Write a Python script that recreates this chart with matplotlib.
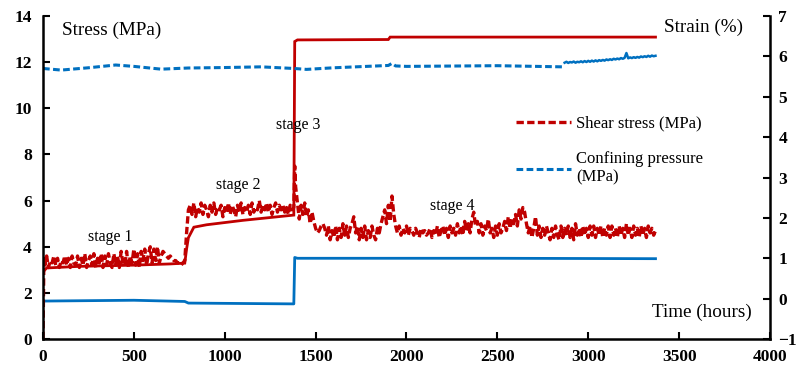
import numpy as np
import matplotlib
matplotlib.use("Agg")
import matplotlib.pyplot as plt

# ---------------- data ----------------
# Shear stress (MPa), left axis
shear_t_start = [0, 5]
shear_v_start = [0.0, 3.5]
shear_t1 = np.arange(10, 800 + 1, 10)
shear_v1 = [3.2, 3.6, 3.1, 3.4, 3.3, 3.6, 3.2, 3.5, 3.1, 3.4,
            3.3, 3.6, 3.2, 3.5, 3.1, 3.6, 3.3, 3.2, 3.6, 3.1,
            3.5, 3.2, 3.7, 3.1, 3.4, 3.6, 3.2, 3.7, 3.1, 3.5,
            3.3, 3.7, 3.1, 3.6, 3.2, 3.7, 3.3, 3.1, 3.7, 3.2,
            3.6, 3.1, 3.8, 3.3, 3.2, 3.8, 3.1, 3.6, 3.3, 3.9,
            3.2, 3.7, 3.1, 3.8, 3.4, 3.9, 3.2, 3.7, 4.0, 3.3,
            3.9, 3.4, 4.0, 3.3, 3.6, 3.8, 3.7, 3.6, 3.5, 3.6,
            3.5, 3.4, 3.4, 3.3, 3.3, 3.2, 3.3, 3.4, 4.6, 5.6]
shear_t2 = np.arange(810, 1380 + 1, 10)
shear_v2 = [5.8, 5.4, 5.9, 5.3, 5.7, 5.5, 5.9, 5.4, 5.8, 5.6,
            5.3, 5.8, 5.5, 5.9, 5.4, 5.7, 5.6, 5.8, 5.3, 5.7,
            5.5, 5.9, 5.4, 5.8, 5.6, 5.3, 5.8, 5.5, 5.9, 5.4,
            5.7, 5.5, 5.8, 5.4, 5.9, 5.5, 5.7, 5.6, 6.0, 5.5,
            5.8, 5.6, 5.9, 5.5, 5.8, 5.4, 5.7, 5.9, 5.5, 5.8,
            5.6, 5.8, 5.5, 5.7, 5.4, 5.8, 5.6, 5.7]
shear_t_spike = [1385]
shear_v_spike = [7.5]
shear_t3 = np.arange(1390, 3370 + 1, 10)
shear_v3 = [6.6, 5.9, 5.2, 5.8, 5.4, 5.9, 5.3, 5.6, 5.0, 5.5,
            5.1, 4.8, 4.6, 4.7, 4.9, 5.0, 4.8, 4.5, 4.9, 4.3,
            4.7, 4.4, 4.9, 4.3, 4.8, 4.4, 5.0, 4.5, 4.9, 4.4,
            4.8, 5.0, 5.3, 4.6, 4.9, 4.3, 4.8, 4.4, 4.9, 4.3,
            4.7, 4.4, 4.9, 4.5, 4.3, 4.8, 4.6, 5.0, 5.3, 5.6,
            5.0, 5.8, 5.1, 6.2, 5.4, 4.9, 4.6, 4.9, 4.5, 4.8,
            4.6, 4.9, 4.5, 4.8, 4.7, 4.5, 4.8, 4.6, 4.4, 4.8,
            4.6, 4.7, 4.5, 4.6, 4.8, 4.4, 4.7, 4.5, 4.9, 4.4,
            4.7, 4.9, 4.5, 4.8, 4.4, 4.9, 4.6, 4.8, 4.5, 5.0,
            4.6, 4.9, 4.5, 5.1, 4.7, 5.0, 4.6, 5.2, 5.5, 4.9,
            5.1, 4.6, 5.0, 4.5, 4.9, 4.7, 5.2, 4.6, 4.8, 4.4,
            4.9, 4.5, 5.0, 4.6, 4.8, 5.1, 4.7, 5.3, 4.8, 5.2,
            5.0, 5.4, 4.9, 5.6, 5.2, 5.7, 5.5, 5.0, 4.6, 4.9,
            4.4, 4.8, 5.3, 4.5, 4.9, 4.4, 4.8, 4.5, 4.9, 4.6,
            4.3, 4.8, 4.4, 4.9, 4.5, 4.3, 4.9, 4.4, 4.8, 4.5,
            4.9, 4.4, 4.8, 4.3, 5.0, 4.5, 4.8, 4.4, 4.9, 4.5,
            4.8, 4.4, 4.9, 4.5, 4.9, 4.4, 4.8, 4.5, 4.9, 4.4,
            4.8, 4.5, 4.9, 4.4, 4.9, 4.5, 4.8, 4.4, 4.9, 4.5,
            4.8, 4.4, 5.0, 4.5, 4.8, 4.4, 4.9, 4.5, 4.8, 4.4,
            4.9, 4.5, 4.8, 4.4, 4.9, 4.6, 4.8, 4.5, 4.7]

# Confining pressure (MPa), left axis
conf_t = [0, 100, 250, 400, 500, 650, 800, 1000, 1200, 1380, 1450, 1600,
          1900, 1920, 1940, 2000, 2500, 2860]
conf_v = [11.73, 11.66, 11.76, 11.88, 11.82, 11.70, 11.75, 11.77, 11.80,
          11.73, 11.69, 11.76, 11.86, 11.95, 11.84, 11.82, 11.85, 11.80]
conf_t_late = np.arange(2870, 3370 + 1, 10)
conf_v_late = [11.98, 12.02, 11.97, 12.01, 11.99, 12.03, 11.98, 12.02, 12.00, 12.04,
               12.00, 12.05, 12.01, 12.06, 12.02, 12.07, 12.03, 12.08, 12.04, 12.09,
               12.06, 12.10, 12.07, 12.12, 12.09, 12.13, 12.10, 12.15, 12.12, 12.16,
               12.13, 12.18, 12.15, 12.19, 12.40, 12.17, 12.21, 12.18, 12.22, 12.19,
               12.23, 12.20, 12.25, 12.22, 12.26, 12.23, 12.28, 12.24, 12.29, 12.26, 12.28]

# Axial strain (%), right axis (solid red)
axial_t = [0, 20, 200, 500, 700, 780, 790, 800, 830, 900, 1100, 1380, 1385,
           1400, 1900, 1910, 3370]
axial_v = [0.66, 0.76, 0.80, 0.83, 0.86, 0.88, 1.23, 1.51, 1.77, 1.83, 1.94,
           2.07, 6.37, 6.41, 6.42, 6.48, 6.48]

# Second strain (%), right axis (solid blue)
lat_t = [0, 500, 780, 800, 1380, 1385, 1400, 2500, 3370]
lat_v = [-0.06, -0.04, -0.07, -0.11, -0.13, 1.02, 1.00, 1.00, 0.99]

stage_labels = ["stage 1", "stage 2", "stage 3", "stage 4"]
stage_x = [368, 1073, 1403, 2250]
stage_y = [4.42, 6.68, 9.3, 5.77]

# ---------------- plot ----------------
RED = "#C00000"
BLUE = "#0070C0"
SERIF = ["Liberation Serif", "DejaVu Serif"]
plt.rcParams["font.family"] = SERIF

fig = plt.figure(figsize=(8.0, 3.72), dpi=100)
ax = fig.add_axes([0.05375, 0.0887, 0.90875, 0.868])
ax2 = ax.twinx()

shear_t = np.concatenate([shear_t_start, shear_t1, shear_t2, shear_t_spike, shear_t3])
shear_v = np.concatenate([shear_v_start, shear_v1, shear_v2, shear_v_spike, shear_v3])

ax2.plot(axial_t, axial_v, color=RED, lw=2.0, solid_joinstyle="miter")
ax2.plot(lat_t, lat_v, color=BLUE, lw=2.0)

ax.plot(conf_t, conf_v, color=BLUE, lw=2.2, dashes=(2.2, 1.1),
        label="Confining pressure\n(MPa)")
ax.plot(conf_t_late, conf_v_late, color=BLUE, lw=1.8)
ax.plot(shear_t, shear_v, color=RED, lw=2.4, dashes=(2.2, 1.0),
        label="Shear stress (MPa)")

ax.set_zorder(ax2.get_zorder() + 1)
ax.patch.set_visible(False)

ax.set_xlim(0, 4000)
ax.set_ylim(0, 14)
ax2.set_ylim(-1, 7)
ax.set_xticks(np.arange(0, 4001, 500))
ax.set_yticks(np.arange(0, 15, 2))
ax2.set_yticks(np.arange(-1, 8, 1))

for a in (ax, ax2):
    for s in ("left", "right", "bottom"):
        a.spines[s].set_linewidth(1.8)
    a.spines["top"].set_visible(False)
ax.spines["right"].set_visible(False)
ax2.spines["left"].set_visible(False)
ax2.spines["bottom"].set_visible(False)

ax.tick_params(axis="both", direction="in", length=5, width=1.5, labelsize=12.5)
ax.tick_params(axis="y", pad=8)
ax.tick_params(axis="x", pad=7)
ax2.tick_params(axis="y", direction="in", length=5, width=1.5, labelsize=12.5, pad=6)
for lab in ax.get_xticklabels() + ax.get_yticklabels() + ax2.get_yticklabels():
    lab.set_fontweight("bold")

ax.text(105, 13.4, "Stress (MPa)", fontsize=13.8, va="center", ha="left")
ax.text(3851, 13.5, "Strain (%)", fontsize=13.8, va="center", ha="right")
ax.text(3900, 1.17, "Time (hours)", fontsize=13.8, va="center", ha="right")
for lab, x, y in zip(stage_labels, stage_x, stage_y):
    ax.text(x, y, lab, fontsize=11.5, ha="center", va="center")

h, l = ax.get_legend_handles_labels()
order = [1, 0]
leg = ax.legend([h[i] for i in order], [l[i] for i in order],
                loc="upper left", bbox_to_anchor=(0.642, 0.713),
                frameon=False, fontsize=12, handlelength=3.3,
                handletextpad=0.3, labelspacing=1.2, borderaxespad=0)

fig.savefig("out.png", dpi=100)
